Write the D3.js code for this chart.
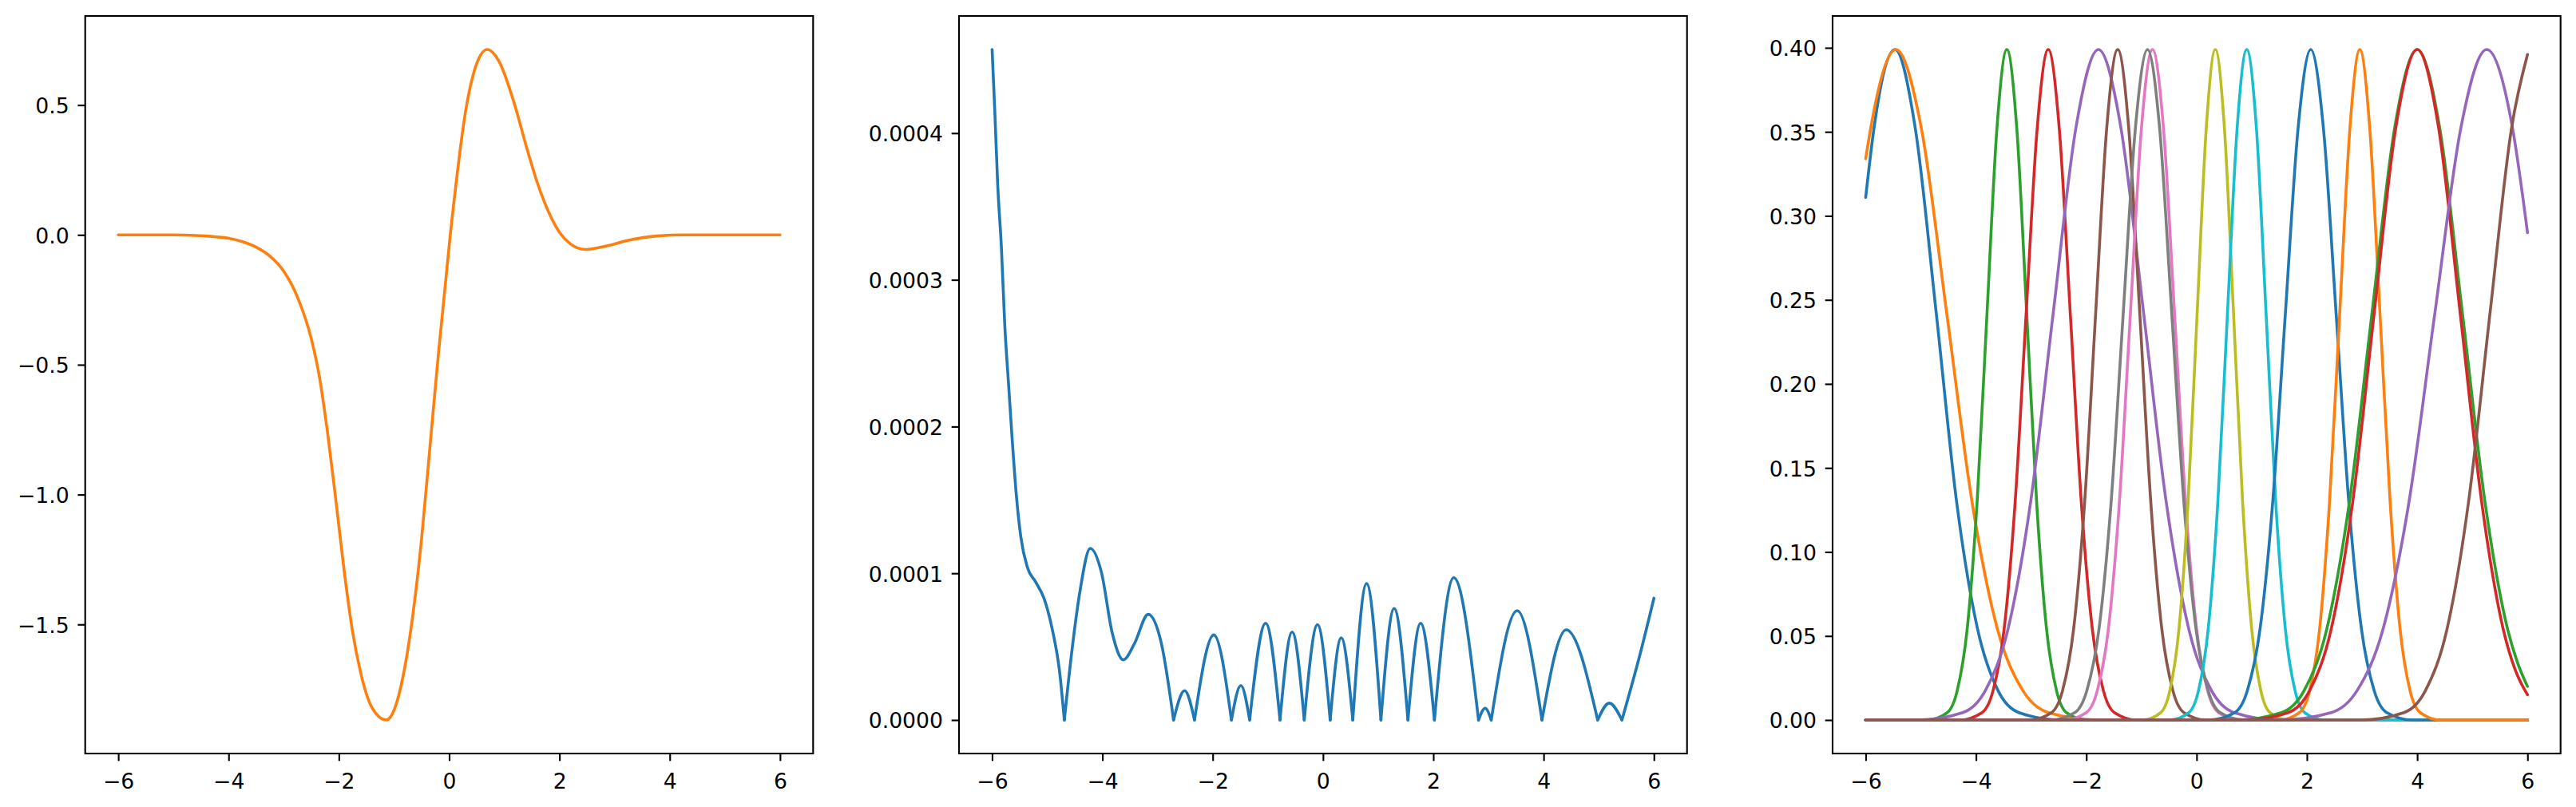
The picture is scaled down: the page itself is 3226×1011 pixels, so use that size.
<!DOCTYPE html>
<html>
<head>
<meta charset="utf-8">
<script src="https://cdn.jsdelivr.net/npm/d3@7"></script>
<style>
  html, body { margin: 0; padding: 0; background: #fff; }
  svg { display: block; }
</style>
</head>
<body>
<div id="chart"></div>
<script>
// ---- data ----

const xTicks = [-6, -4, -2, 0, 2, 4, 6];
const leftYTicks = [-1.5, -1.0, -0.5, 0.0, 0.5];
const midYTicks = [0, 0.0001, 0.0002, 0.0003, 0.0004];
const rightYTicks = [0, 0.05, 0.10, 0.15, 0.20, 0.25, 0.30, 0.35, 0.40];

// left panel: fitted function
const fitCurve = [
  [-6, 0], [-5.0, 0], [-4.6, -0.002], [-4.25, -0.007], [-4.0, -0.013], [-3.75, -0.026],
  [-3.5, -0.047], [-3.25, -0.082], [-3.0, -0.14], [-2.75, -0.24], [-2.5, -0.40],
  [-2.35, -0.55], [-2.2, -0.77], [-2.05, -1.03], [-1.9, -1.30], [-1.75, -1.53],
  [-1.6, -1.69], [-1.4, -1.82], [-1.14, -1.868], [-0.95, -1.80], [-0.8, -1.66],
  [-0.65, -1.45], [-0.5, -1.17], [-0.35, -0.82], [-0.2, -0.47], [0.02, 0.0],
  [0.317, 0.5], [0.5, 0.66], [0.69, 0.714], [0.9, 0.67], [1.19, 0.5], [1.4, 0.34],
  [1.6, 0.2], [1.8, 0.09], [2.0, 0.01], [2.2, -0.035], [2.46, -0.056], [2.78, -0.046],
  [3.27, -0.02], [3.77, -0.004], [4.27, 0], [6, 0]
];

// middle panel: absolute error (cusps sit on zero)
const errorCurve = [
  [-6, 4.57e-4], [-5.95, 4.14e-4], [-5.9, 3.66e-4], [-5.83, 3.21e-4], [-5.77, 2.69e-4],
  [-5.7, 2.28e-4], [-5.63, 1.88e-4], [-5.56, 1.53e-4], [-5.48, 1.25e-4], [-5.36, 1.04e-4],
  [-5.21, 0.94e-4], [-5.06, 0.83e-4], [-4.91, 0.62e-4], [-4.78, 0.34e-4], [-4.69, 0],
  [-4.56, 0.45e-4], [-4.41, 0.87e-4], [-4.22, 1.17e-4], [-4.02, 1.01e-4], [-3.82, 0.59e-4],
  [-3.62, 0.41e-4], [-3.42, 0.52e-4], [-3.17, 0.72e-4], [-2.93, 0.52e-4], [-2.71, 0],
  [-2.51, 0.20e-4], [-2.33, 0],
  [-1.98, 0.58e-4], [-1.66, 0],
  [-1.49, 0.235e-4], [-1.33, 0],
  [-1.04, 0.66e-4], [-0.78, 0],
  [-0.56, 0.60e-4], [-0.34, 0],
  [-0.10, 0.65e-4], [0.13, 0],
  [0.33, 0.56e-4], [0.54, 0],
  [0.79, 0.93e-4], [1.05, 0],
  [1.29, 0.76e-4], [1.54, 0],
  [1.77, 0.66e-4], [2.02, 0],
  [2.37, 0.97e-4], [2.82, 0],
  [2.94, 0.08e-4], [3.05, 0],
  [3.52, 0.745e-4], [3.97, 0],
  [4.41, 0.615e-4], [4.98, 0],
  [5.19, 0.115e-4], [5.42, 0],
  [5.75, 0.45e-4], [6, 0.83e-4]
];

// right panel: basis bumps, in drawing order
const basisColors = ['#1f77b4', '#ff7f0e', '#2ca02c', '#d62728', '#9467bd', '#8c564b',
  '#e377c2', '#7f7f7f', '#bcbd22', '#17becf', '#1f77b4', '#ff7f0e', '#2ca02c', '#d62728',
  '#9467bd', '#8c564b'];

const bump01 = [[-6, 0.311], [-5.85, 0.352], [-5.47, 0.399], [-5.10, 0.352], [-4.72, 0.242], [-4.35, 0.1295], [-3.97, 0.054], [-3.60, 0.0175], [-3.22, 0.0044], [-2.47, 0], [6, 0]];
const bump02 = [[-6, 0.334], [-5.91, 0.352], [-5.45, 0.399], [-4.99, 0.352], [-4.53, 0.242], [-4.07, 0.1295], [-3.61, 0.054], [-3.15, 0.0175], [-2.69, 0.0044], [-1.77, 0], [6, 0]];
const bump03 = [[-6, 0], [-4.88, 0], [-4.52, 0.0044], [-4.34, 0.0175], [-4.16, 0.054], [-3.98, 0.1295], [-3.80, 0.242], [-3.62, 0.352], [-3.44, 0.399], [-3.26, 0.352], [-3.08, 0.242], [-2.90, 0.1295], [-2.72, 0.054], [-2.54, 0.0175], [-2.36, 0.0044], [-2.0, 0], [6, 0]];
const bump04 = [[-6, 0], [-4.29, 0], [-3.89, 0.0044], [-3.69, 0.0175], [-3.49, 0.054], [-3.29, 0.1295], [-3.09, 0.242], [-2.89, 0.352], [-2.69, 0.399], [-2.49, 0.352], [-2.29, 0.242], [-2.09, 0.1295], [-1.89, 0.054], [-1.69, 0.0175], [-1.49, 0.0044], [-1.09, 0], [6, 0]];
const bump05 = [[-6, 0], [-5.06, 0], [-4.24, 0.0044], [-3.83, 0.0175], [-3.42, 0.054], [-3.01, 0.1295], [-2.60, 0.242], [-2.19, 0.352], [-1.78, 0.399], [-1.37, 0.352], [-0.96, 0.242], [-0.55, 0.1295], [-0.14, 0.054], [0.27, 0.0175], [0.68, 0.0044], [1.50, 0], [6, 0]];
const bump06 = [[-6, 0], [-3.03, 0], [-2.63, 0.0044], [-2.43, 0.0175], [-2.23, 0.054], [-2.03, 0.1295], [-1.83, 0.242], [-1.63, 0.352], [-1.43, 0.399], [-1.23, 0.352], [-1.03, 0.242], [-0.83, 0.1295], [-0.63, 0.054], [-0.43, 0.0175], [-0.23, 0.0044], [0.17, 0], [6, 0]];
const bump07 = [[-6, 0], [-2.40, 0], [-2.00, 0.0044], [-1.80, 0.0175], [-1.60, 0.054], [-1.40, 0.1295], [-1.20, 0.242], [-1.00, 0.352], [-0.80, 0.399], [-0.60, 0.352], [-0.40, 0.242], [-0.20, 0.1295], [0.00, 0.054], [0.20, 0.0175], [0.40, 0.0044], [0.80, 0], [6, 0]];
const bump08 = [[-6, 0], [-2.65, 0], [-2.21, 0.0044], [-1.99, 0.0175], [-1.77, 0.054], [-1.55, 0.1295], [-1.33, 0.242], [-1.11, 0.352], [-0.89, 0.399], [-0.67, 0.352], [-0.45, 0.242], [-0.23, 0.1295], [-0.01, 0.054], [0.21, 0.0175], [0.43, 0.0044], [0.87, 0], [6, 0]];
const bump09 = [[-6, 0], [-0.98, 0], [-0.65, 0.0044], [-0.485, 0.0175], [-0.32, 0.054], [-0.155, 0.1295], [0.01, 0.242], [0.175, 0.352], [0.34, 0.399], [0.505, 0.352], [0.67, 0.242], [0.835, 0.1295], [1.0, 0.054], [1.165, 0.0175], [1.33, 0.0044], [1.66, 0], [6, 0]];
const bump10 = [[-6, 0], [-0.49, 0], [-0.14, 0.0044], [0.035, 0.0175], [0.21, 0.054], [0.385, 0.1295], [0.56, 0.242], [0.735, 0.352], [0.91, 0.399], [1.085, 0.352], [1.26, 0.242], [1.435, 0.1295], [1.61, 0.054], [1.785, 0.0175], [1.96, 0.0044], [2.31, 0], [6, 0]];
const bump11 = [[-6, 0], [0.23, 0], [0.69, 0.0044], [0.92, 0.0175], [1.15, 0.054], [1.38, 0.1295], [1.61, 0.242], [1.84, 0.352], [2.07, 0.399], [2.30, 0.352], [2.53, 0.242], [2.76, 0.1295], [2.99, 0.054], [3.22, 0.0175], [3.45, 0.0044], [3.91, 0], [6, 0]];
const bump12 = [[-6, 0], [1.50, 0], [1.865, 0.0044], [2.05, 0.0175], [2.23, 0.054], [2.41, 0.1295], [2.595, 0.242], [2.78, 0.352], [2.96, 0.399], [3.14, 0.352], [3.325, 0.242], [3.51, 0.1295], [3.69, 0.054], [3.87, 0.0175], [4.055, 0.0044], [4.42, 0], [6, 0]];
const bump13 = [[-6, 0], [0.72, 0], [1.54, 0.0044], [1.95, 0.0175], [2.36, 0.054], [2.77, 0.1295], [3.18, 0.242], [3.59, 0.352], [4.0, 0.399], [4.41, 0.352], [4.82, 0.242], [5.23, 0.1295], [5.64, 0.054], [5.82, 0.034], [6, 0.020]];
const bump14 = [[-6, 0], [0.88, 0], [1.66, 0.0044], [2.05, 0.0175], [2.44, 0.054], [2.83, 0.1295], [3.22, 0.242], [3.61, 0.352], [4.0, 0.399], [4.39, 0.352], [4.78, 0.242], [5.17, 0.1295], [5.56, 0.054], [5.78, 0.0296], [6, 0.015]];
const bump15 = [[-6, 0], [1.50, 0], [2.44, 0.0044], [2.91, 0.0175], [3.38, 0.054], [3.85, 0.1295], [4.32, 0.242], [4.79, 0.352], [5.26, 0.399], [5.73, 0.352], [6, 0.290]];
const bump16 = [[-6, 0], [2.98, 0], [3.76, 0.0044], [4.15, 0.0175], [4.54, 0.054], [4.93, 0.1295], [5.32, 0.242], [5.71, 0.352], [6, 0.396]];

const bumps = [bump01, bump02, bump03, bump04, bump05, bump06, bump07, bump08,
  bump09, bump10, bump11, bump12, bump13, bump14, bump15, bump16];

// ---- layout ----

const W = 3226, H = 1011;
const PLOT_TOP = 20, PLOT_BOTTOM = 944;
const FONT = '"DejaVu Sans", "Liberation Sans", sans-serif';
const FONT_SIZE = 26.67;
const LW = 2.13;       // spine / tick width
const TICK = 9.33;     // tick length
const CURVE_W = 3.6;

const svg = d3.select('#chart').append('svg')
  .attr('width', W).attr('height', H)
  .style('background', '#fff');

function paddedExtent(values) {
  const [lo, hi] = d3.extent(values);
  const pad = (hi - lo) * 0.05;
  return [lo - pad, hi + pad];
}

// splits a polyline wherever it touches zero, so each arch is smoothed on its own
function splitAtZeros(points) {
  const parts = [];
  let cur = [];
  points.forEach((p, i) => {
    cur.push(p);
    if (p[1] === 0 && i > 0 && i < points.length - 1) {
      parts.push(cur);
      cur = [p];
    }
  });
  if (cur.length > 1) parts.push(cur);
  return parts;
}

function drawPanel(left, right, yTicks, yFormat, series) {
  const allPts = series.flatMap(s => s.points);
  const x = d3.scaleLinear().domain(paddedExtent(allPts.map(p => p[0]))).range([left, right]);
  const y = d3.scaleLinear().domain(paddedExtent(allPts.map(p => p[1]))).range([PLOT_BOTTOM, PLOT_TOP]);

  const g = svg.append('g');

  const line = d3.line()
    .x(d => x(d[0]))
    .y(d => y(d[1]))
    .curve(d3.curveMonotoneX);

  series.forEach(s => {
    const parts = s.split ? splitAtZeros(s.points) : [s.points];
    parts.forEach(part => {
      g.append('path')
        .datum(part)
        .attr('fill', 'none')
        .attr('stroke', s.color)
        .attr('stroke-width', CURVE_W)
        .attr('stroke-linecap', 'round')
        .attr('stroke-linejoin', 'round')
        .attr('d', line);
    });
  });

  // Axes
  const xAxis = g.append('g')
    .attr('transform', `translate(0,${PLOT_BOTTOM})`)
    .call(d3.axisBottom(x).tickValues(xTicks).tickFormat(d3.format('d'))
      .tickSize(TICK).tickPadding(15.5));

  const yAxis = g.append('g')
    .attr('transform', `translate(${left},0)`)
    .call(d3.axisLeft(y).tickValues(yTicks).tickFormat(yFormat)
      .tickSize(TICK).tickPadding(10.7));

  [xAxis, yAxis].forEach(ax => {
    ax.select('.domain').remove();
    ax.selectAll('.tick line').attr('stroke', '#000').attr('stroke-width', LW);
    ax.selectAll('.tick text')
      .attr('fill', '#000')
      .style('font-family', FONT)
      .style('font-size', FONT_SIZE + 'px');
  });
  yAxis.selectAll('.tick text').attr('dy', '0.37em');

  // Frame
  g.append('rect')
    .attr('x', left).attr('y', PLOT_TOP)
    .attr('width', right - left).attr('height', PLOT_BOTTOM - PLOT_TOP)
    .attr('fill', 'none')
    .attr('stroke', '#000')
    .attr('stroke-width', LW);
}

drawPanel(106.7, 1018.3, leftYTicks, d3.format('.1f'),
  [{ points: fitCurve, color: '#ff7f0e' }]);

drawPanel(1201, 2112.7, midYTicks, d3.format('.4f'),
  [{ points: errorCurve, color: '#1f77b4', split: true }]);

drawPanel(2295, 3206.7, rightYTicks, d3.format('.2f'),
  bumps.map((b, i) => ({ points: b, color: basisColors[i] })));
</script>
</body>
</html>
